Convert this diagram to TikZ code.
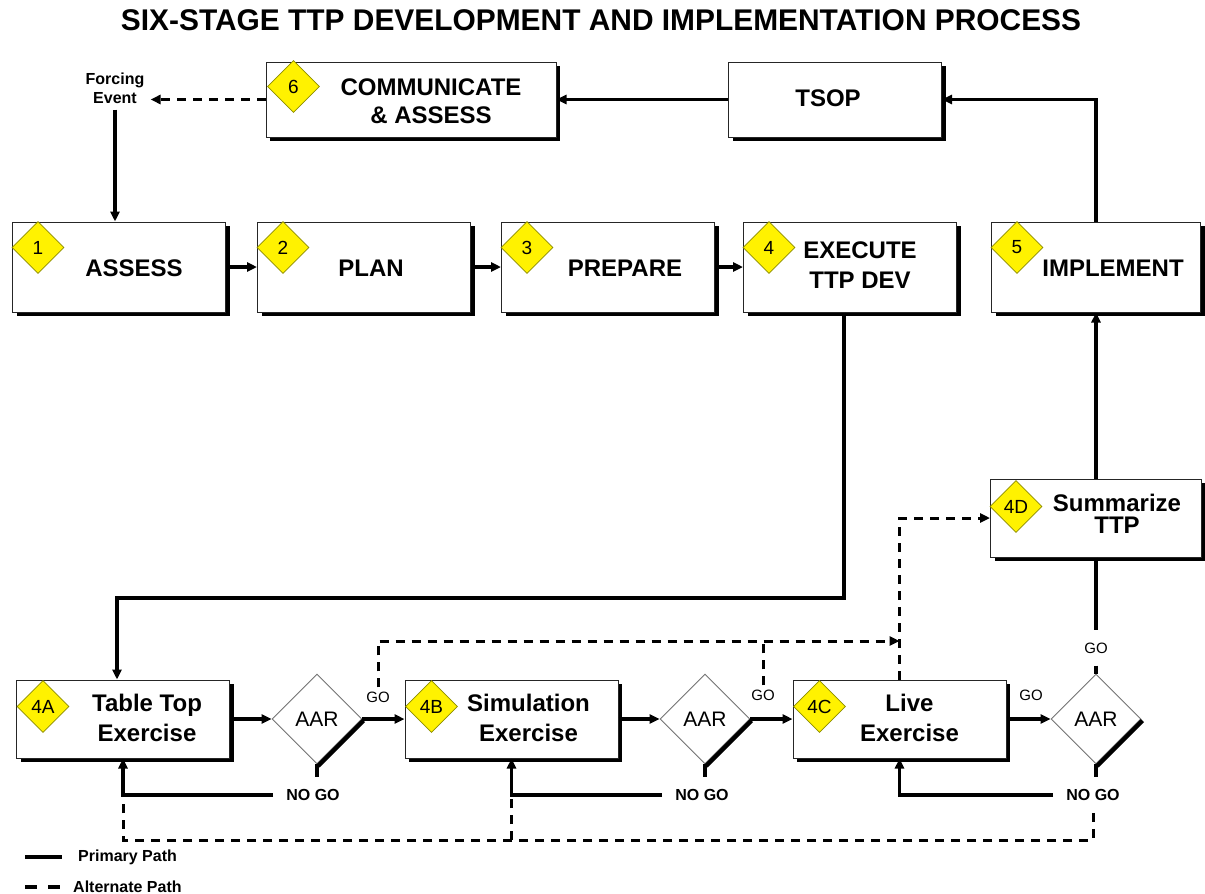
\documentclass[tikz,border=0pt]{standalone}
\usepackage{fontspec}
\setmainfont{Liberation Sans}
\usetikzlibrary{arrows.meta,shapes.geometric,shadows,calc,positioning}
\definecolor{badgeedge}{RGB}{140,140,0}
\begin{document}
\begin{tikzpicture}[x=1pt,y=-1pt]
          % canvas
          \fill[white] (0,0) rectangle (1205,894);
          \useasboundingbox (0,0) rectangle (1205,894);
          % styles
          \tikzstyle{StageBox}=[draw=black!85, line width=1pt, fill=white, minimum width=213pt, minimum height=90pt, inner sep=0pt, drop shadow={shadow xshift=4pt, shadow yshift=-4pt, opacity=1, fill=black}]
          \tikzstyle{StageText}=[font=\fontsize{24}{30}\selectfont\bfseries, align=center, inner sep=0pt]
          \tikzstyle{Badge}=[diamond, fill=yellow, draw=badgeedge, line width=0.8pt, minimum width=52pt, minimum height=52pt, inner sep=0pt, font=\fontsize{19}{19}\selectfont]
          \tikzstyle{Review}=[diamond, fill=white, draw=black!55, line width=0.9pt, minimum width=90pt, minimum height=90pt, inner sep=0pt, font=\fontsize{21}{21}\selectfont]
          \tikzstyle{GoText}=[font=\fontsize{15}{15}\selectfont, inner sep=4pt]
          \tikzstyle{NoGoText}=[font=\fontsize{16}{16}\selectfont\bfseries, inner xsep=13pt, inner ysep=12pt]
          \tikzstyle{Primary}=[line width=3.2pt, -{Triangle[length=10pt,width=9pt]}]
          \tikzstyle{Alternate}=[line width=3pt, dash pattern=on 9pt off 7pt, -{Triangle[length=10pt,width=9pt]}]
          % title
          \node[font=\fontsize{29.9}{30}\selectfont\bfseries] (title) at (601,20) {SIX-STAGE TTP DEVELOPMENT AND IMPLEMENTATION PROCESS};
          % stages
          \node[StageBox] (s1) at (119,267) {};
          \node[StageBox] (s2) at (364,267) {};
          \node[StageBox] (s3) at (608,267) {};
          \node[StageBox] (s4) at (850,267) {};
          \node[StageBox, minimum width=209pt] (s5) at (1096,267) {};
          \node[StageBox, minimum width=290pt, minimum height=75pt] (s6) at (411,99.5) {};
          \node[StageBox, minimum height=75pt] (tsop) at (835,99.5) {};
          % exercises
          \node[StageBox, minimum height=78pt] (s4a) at (123,719) {};
          \node[StageBox, minimum height=78pt] (s4b) at (511.5,719) {};
          \node[StageBox, minimum height=78pt] (s4c) at (899.5,719) {};
          \node[StageBox, minimum width=211pt, minimum height=78pt] (s4d) at (1096,518) {};
          % reviews
          \node[Review] (a1) at (317,719) {AAR};
          \node[Review] (a2) at (705,719) {AAR};
          \node[Review] (a3) at (1096,719) {AAR};
          \foreach \r in {a1,a2,a3}
            \draw[line width=4.5pt] ($(\r.east)+(1,1.5)$) -- ($(\r.south)+(1,1.5)$);
          % labels
          \node[StageText] (t1) at ($(s1)+(15,1)$) {ASSESS};
          \node[StageText] (t2) at ($(s2)+(7,1)$) {PLAN};
          \node[StageText] (t3) at ($(s3)+(17,1)$) {PREPARE};
          \node[StageText] (t4) at ($(s4)+(10,-2)$) {EXECUTE\\TTP DEV};
          \node[StageText] (t5) at ($(s5)+(17,1)$) {IMPLEMENT};
          \node[StageText, font=\fontsize{24}{28}\selectfont\bfseries] (t6) at ($(s6)+(20,1.5)$) {COMMUNICATE\\\& ASSESS};
          \node[StageText] (tt) at ($(tsop)+(-7,-1)$) {TSOP};
          \node[StageText] (t4a) at ($(s4a)+(24,-1)$) {Table Top\\Exercise};
          \node[StageText] (t4b) at ($(s4b)+(17,-1)$) {Simulation\\Exercise};
          \node[StageText] (t4c) at ($(s4c)+(10,-1)$) {Live\\Exercise};
          \node[StageText, font=\fontsize{24}{22}\selectfont\bfseries] (t4d) at ($(s4d)+(21,-4)$) {Summarize\\TTP};
          % badges
          \node[Badge] (b1) at ($(s1.north west)+(26,26)$) {1};
          \node[Badge] (b2) at ($(s2.north west)+(26,26)$) {2};
          \node[Badge] (b3) at ($(s3.north west)+(26,26)$) {3};
          \node[Badge] (b4) at ($(s4.north west)+(26,26)$) {4};
          \node[Badge] (b5) at ($(s5.north west)+(26,26)$) {5};
          \node[Badge] (b6) at ($(s6.north west)+(28,25)$) {6};
          \node[Badge] (b4a) at ($(s4a.north west)+(27,27)$) {4A};
          \node[Badge] (b4b) at ($(s4b.north west)+(27,27)$) {4B};
          \node[Badge] (b4c) at ($(s4c.north west)+(27,27)$) {4C};
          \node[Badge] (b4d) at ($(s4d.north west)+(26,28)$) {4D};
          % small texts
          \node[font=\fontsize{16}{19}\selectfont\bfseries, align=center, inner sep=6pt] (fe) at (115,88) {Forcing\\Event};
          \node[GoText] (g1) at (378,697) {GO};
          \node[GoText] (g2) at (763,695) {GO};
          \node[GoText] (g3) at (1031,695) {GO};
          \node[GoText, inner ysep=12pt] (g4) at (1096,648) {GO};
          \node[NoGoText] (n1) at (313,795) {NO GO};
          \node[NoGoText] (n2) at (702,795) {NO GO};
          \node[NoGoText] (n3) at (1093,795) {NO GO};
          % helper coordinates
          \coordinate (c1) at (844,598);
          \coordinate (skip) at (0,641);
          \coordinate (low) at (0,840);
          % primary path
          \draw[Primary] (fe.south) -- (fe.south |- s1.north);
          \draw[Primary] (s1) -- (s2);
          \draw[Primary] (s2) -- (s3);
          \draw[Primary] (s3) -- (s4);
          \draw[Primary] (s4.south -| c1) -- (c1) -| ($(s4a.north)+(-6,0)$);
          \draw[Primary] (s4a) -- (a1);
          \draw[Primary] (a1) -- (s4b);
          \draw[Primary] (s4b) -- (a2);
          \draw[Primary] (a2) -- (s4c);
          \draw[Primary] (s4c) -- (a3);
          \draw[Primary, -] (s4d.south) -- (g4.north);
          \draw[Primary, -] (g4.south) -- (a3.north);
          \draw[Primary] (s4d.north) -- (s5.south);
          \draw[Primary] (s5.north) |- (tsop.east);
          \draw[Primary] (tsop) -- (s6);
          % no go returns
          \draw[Primary, -] (a1.south) -- (a1.south |- n1.north);
          \draw[Primary, -] (a2.south) -- (a2.south |- n2.north);
          \draw[Primary, -] (a3.south) -- (a3.south |- n3.north);
          \draw[Primary] (n1.west) -| (s4a.south);
          \draw[Primary] (n2.west) -| (s4b.south);
          \draw[Primary] (n3.west) -| (s4c.south);
          % alternate path
          \draw[Alternate] (s6.west) -- (s6.west -| fe.east);
          \draw[Alternate] (g1.north) |- (s4c.north |- skip);
          \draw[Alternate, -] (g2.north) -- (g2.north |- skip);
          \draw[Alternate] (s4c.north) |- (s4d.west);
          \draw[Alternate, -] (n3.south) |- (low -| s4a.south) -- (s4a.south |- n1.west);
          \draw[Alternate, -] (low -| s4b.south) -- (s4b.south |- n2.west);
          % legend
          \node[font=\fontsize{16}{16}\selectfont\bfseries, anchor=west, inner sep=0pt] (lp) at (78,857) {Primary Path};
          \node[font=\fontsize{16}{16}\selectfont\bfseries, anchor=west, inner sep=0pt] (la) at (73,887) {Alternate Path};
          \draw[line width=3.2pt] ($(lp.west)+(-53,0)$) -- ++(37,0);
          \draw[line width=3.2pt, dash pattern=on 12pt off 11pt] ($(la.west)+(-48,0)$) -- ++(37,0);
        \end{tikzpicture}
\end{document}
